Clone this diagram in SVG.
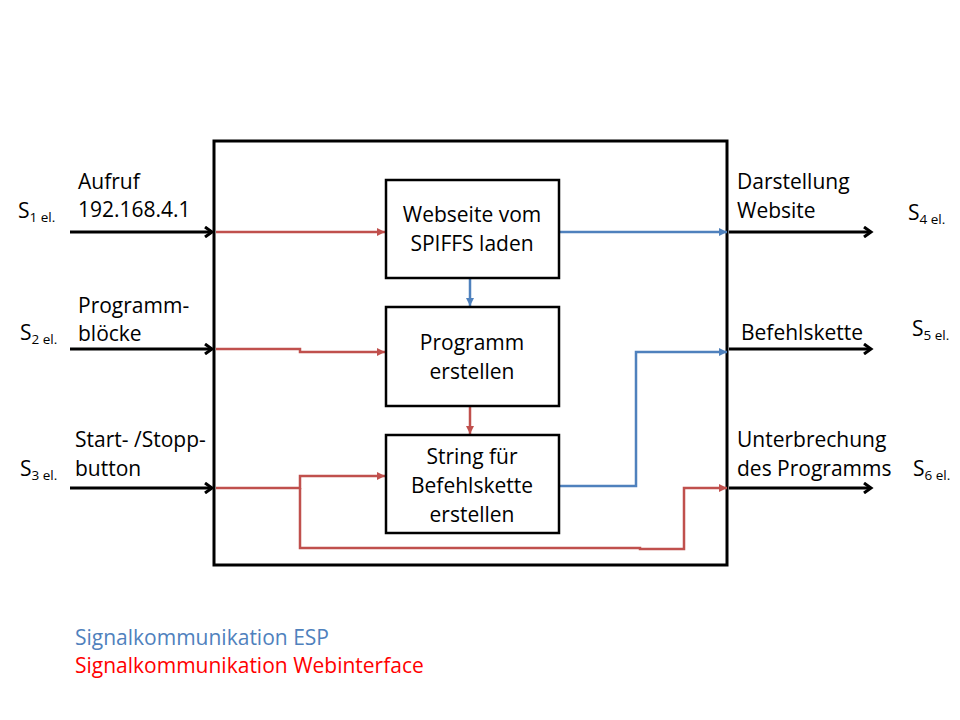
<svg xmlns="http://www.w3.org/2000/svg" width="960" height="720" viewBox="0 0 960 720">
<style>
text{font-family:"Open Sans","Noto Sans","Liberation Sans",sans-serif;font-size:21px;fill:#000}
.c{text-anchor:middle}
.sub{font-size:13.5px}
.box{fill:#fff;stroke:#000;stroke-width:2.5}
.k{fill:none;stroke:#000;stroke-width:3}
.r{fill:none;stroke:#C0504D;stroke-width:2.5}
.b{fill:none;stroke:#4F81BD;stroke-width:2.5}
</style>
<defs>
<marker id="ak" markerWidth="12" markerHeight="12" refX="9" refY="6" orient="auto" markerUnits="userSpaceOnUse">
<path d="M2,1 L9,6 L2,11" fill="none" stroke="#000" stroke-width="3"/>
</marker>
<marker id="ar" markerWidth="10" markerHeight="10" refX="8" refY="5" orient="auto" markerUnits="userSpaceOnUse">
<path d="M0,1 L8,5 L0,9 Z" fill="#C0504D"/>
</marker>
<marker id="ab" markerWidth="10" markerHeight="10" refX="8" refY="5" orient="auto" markerUnits="userSpaceOnUse">
<path d="M0,1 L8,5 L0,9 Z" fill="#4F81BD"/>
</marker>
</defs>
<g id="system"><rect x="214" y="141" width="513" height="424" fill="none" stroke="#000" stroke-width="3"/></g>
<g id="connectors">
<path class="k" d="M70,232 H212" marker-end="url(#ak)"/>
<path class="k" d="M70,349 H212" marker-end="url(#ak)"/>
<path class="k" d="M70,488 H212" marker-end="url(#ak)"/>
<path class="k" d="M729,232 H871" marker-end="url(#ak)"/>
<path class="k" d="M729,349 H871" marker-end="url(#ak)"/>
<path class="k" d="M729,488 H871" marker-end="url(#ak)"/>
<path class="r" d="M216,232 H385" marker-end="url(#ar)"/>
<path class="r" d="M216,349 H300 V352 H385" marker-end="url(#ar)"/>
<path class="r" d="M216,488 H300 V476 H385" marker-end="url(#ar)"/>
<path class="r" d="M300,488 V548 H640 V549 H684 V488 H727" marker-end="url(#ar)"/>
<path class="r" d="M470,407 V434" marker-end="url(#ar)"/>
<path class="b" d="M560,232 H727" marker-end="url(#ab)"/>
<path class="b" d="M470,279 V306" marker-end="url(#ab)"/>
<path class="b" d="M560,486 H636 V352 H727" marker-end="url(#ab)"/>
</g>
<g id="n1"><rect class="box" x="386" y="180" width="173" height="98"/><text class="c" x="472" y="222">Webseite vom</text><text class="c" x="472" y="251">SPIFFS laden</text></g>
<g id="n2"><rect class="box" x="386" y="307" width="173" height="99"/><text class="c" x="472" y="350">Programm</text><text class="c" x="472" y="379">erstellen</text></g>
<g id="n3"><rect class="box" x="386" y="435" width="173" height="98"/><text class="c" x="472" y="464">String für</text><text class="c" x="472" y="493">Befehlskette</text><text class="c" x="472" y="522">erstellen</text></g>
<g id="labels">
<text x="78" y="189">Aufruf</text><text x="78" y="217">192.168.4.1</text>
<text x="18" y="218">S<tspan class="sub" dy="4">1 el.</tspan></text>
<text x="78" y="313">Programm-</text><text x="78" y="341">blöcke</text>
<text x="20" y="340">S<tspan class="sub" dy="4">2 el.</tspan></text>
<text x="75" y="447">Start- /Stopp-</text><text x="75" y="476">button</text>
<text x="20" y="476">S<tspan class="sub" dy="4">3 el.</tspan></text>
<text x="737" y="189">Darstellung</text><text x="737" y="218">Website</text>
<text x="908" y="220">S<tspan class="sub" dy="4">4 el.</tspan></text>
<text x="741" y="340">Befehlskette</text>
<text x="912" y="336">S<tspan class="sub" dy="4">5 el.</tspan></text>
<text x="737" y="447">Unterbrechung</text><text x="737" y="476">des Programms</text>
<text x="913" y="476">S<tspan class="sub" dy="4">6 el.</tspan></text>
</g>
<g id="legend">
<text x="75" y="645" style="fill:#4F81BD">Signalkommunikation ESP</text>
<text x="75" y="673" style="fill:#FF0000">Signalkommunikation Webinterface</text>
</g>
</svg>
